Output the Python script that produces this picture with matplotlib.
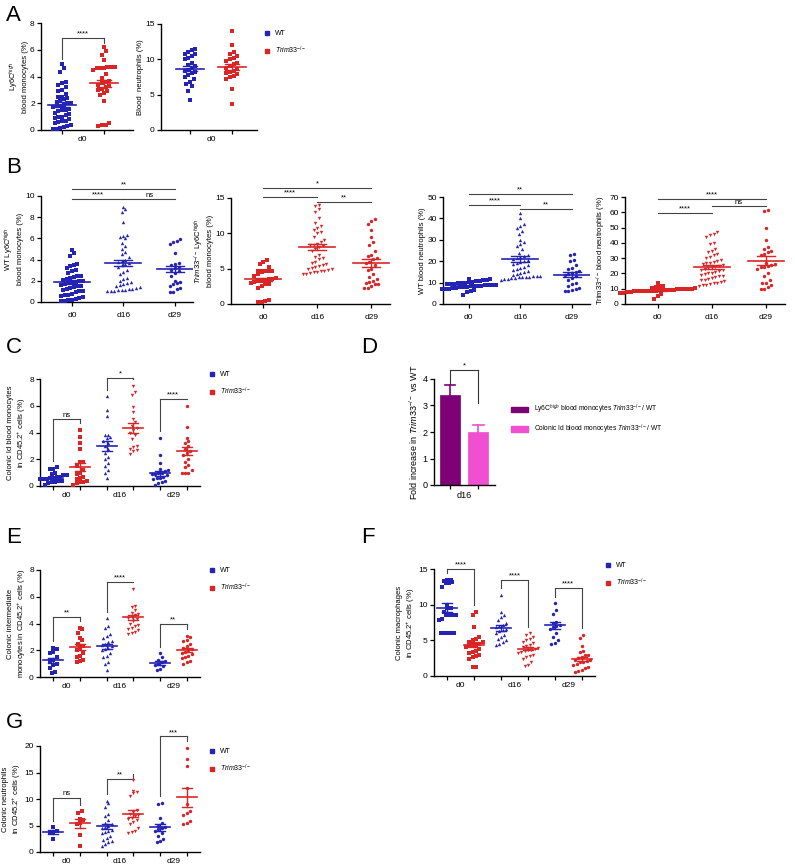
import matplotlib
matplotlib.use("Agg")
import matplotlib.pyplot as plt
import numpy as np
from matplotlib.lines import Line2D
from matplotlib.patches import Patch

plt.rcParams['font.family'] = ['Liberation Sans', 'DejaVu Sans']
plt.rcParams['mathtext.fontset'] = 'custom'
plt.rcParams['mathtext.rm'] = 'Liberation Sans'
plt.rcParams['mathtext.it'] = 'Liberation Sans:italic'

BLUE = '#2323b4'
RED = '#d92525'
W, H = 795, 864
KO = r'$\mathit{Trim33}^{-/-}$'

# ---- A : d0 blood ----
a_mono_wt = [4.9, 4.6, 4.3, 3.6, 3.5, 3.4, 3.2, 3.0, 2.9, 2.7, 2.5, 2.5, 2.4, 2.3, 2.2, 2.1, 2.0, 2.0,
             1.9, 1.8, 1.8, 1.7, 1.6, 1.5, 1.5, 1.4, 1.3, 1.2, 1.1, 1.0, 1.0, 0.9, 0.8, 0.7, 0.7, 0.6,
             0.5, 0.4, 0.3, 0.2, 0.15, 0.1, 0.05]
a_mono_ko = [6.2, 5.9, 5.6, 5.2, 4.7, 4.7, 4.6, 4.6, 4.6, 4.7, 4.5, 4.2, 3.9, 3.7, 3.6, 3.5, 3.4, 3.3,
             3.2, 3.1, 3.0, 2.9, 2.8, 2.6, 2.2, 0.5, 0.4, 0.35, 0.3]
a_neut_wt = [11.5, 11.3, 11.0, 10.8, 10.7, 10.5, 10.2, 10.0, 9.5, 9.2, 9.0, 8.8, 8.5, 8.3, 8.2, 8.0,
             7.8, 7.5, 7.2, 6.8, 6.5, 6.2, 5.5, 4.3]
a_neut_ko = [14.0, 12.0, 11.0, 10.8, 10.5, 10.2, 10.0, 9.8, 9.5, 9.3, 9.0, 8.8, 8.6, 8.4, 8.2, 8.0,
             7.9, 7.6, 7.5, 7.2, 5.8, 3.7]
a_mean = [1.9, 3.5, 8.7, 8.9]
a_sem = [0.18, 0.25, 0.35, 0.4]

# ---- B : time course ----
b1_d16 = [9.0, 8.8, 8.5, 7.5, 6.3, 6.2, 6.1, 6.0, 5.6, 5.3, 5.0, 4.7, 4.5, 4.2, 4.0, 3.9, 3.8, 3.7,
          3.6, 3.5, 3.3, 3.0, 2.8, 2.6, 2.3, 2.2, 2.0, 1.9, 1.8, 1.7, 1.6, 1.5, 1.4, 1.3, 1.2, 1.15,
          1.1, 1.05, 1.0, 1.0, 1.1, 1.2]
b1_d29 = [5.9, 5.8, 5.7, 5.5, 4.6, 3.7, 3.6, 3.5, 3.3, 3.2, 3.0, 2.9, 2.7, 2.5, 2.0, 1.9, 1.8, 1.7,
          1.5, 1.3, 1.2, 0.9, 0.9]
b1_mean = [1.9, 3.65, 3.1]
b1_sem = [0.18, 0.3, 0.3]

b2_d16 = [14.0, 13.8, 13.5, 13.0, 12.2, 11.5, 11.0, 10.8, 10.5, 10.2, 10.0, 9.5, 9.0, 8.8, 8.5, 8.4,
          8.3, 8.2, 8.0, 7.8, 7.5, 7.0, 6.7, 6.5, 6.3, 6.0, 5.8, 5.6, 5.4, 5.2, 5.0, 4.9, 4.8, 4.7,
          4.6, 4.5, 4.4, 4.3, 4.2, 4.5, 5.1, 5.5]
b2_d29 = [12.0, 11.8, 11.3, 10.5, 9.5, 8.8, 8.3, 7.5, 7.0, 6.8, 6.5, 6.3, 6.0, 5.8, 5.5, 5.0, 4.8,
          4.2, 3.8, 3.5, 3.3, 3.1, 3.0, 2.9, 2.8, 2.6, 2.3, 2.2]
b2_mean = [3.5, 8.1, 5.85]
b2_sem = [0.25, 0.45, 0.55]

b3_d0 = [11.8, 11.5, 11.3, 11.0, 10.8, 10.5, 10.3, 10.0, 9.8, 9.6, 9.4, 9.2, 9.0, 8.8, 8.7, 8.6,
         8.5, 8.4, 8.2, 8.0, 7.8, 7.6, 7.4, 7.2, 7.0, 6.8, 6.5, 6.0, 5.5, 4.2, 9.5, 8.9, 7.9, 10.9]
b3_d16 = [42.5, 40.0, 37.5, 36.5, 35.5, 34.0, 32.5, 30.0, 29.0, 28.0, 27.0, 25.5, 24.0, 23.0, 22.5,
          22.0, 21.5, 21.0, 20.5, 20.0, 19.5, 19.0, 18.5, 18.0, 17.5, 17.0, 16.5, 16.0, 15.5, 15.0,
          14.5, 14.0, 13.5, 13.0, 12.8, 12.6, 12.5, 12.3, 12.0, 11.8, 11.5, 11.0, 12.7, 13.2, 12.9]
b3_d29 = [23.5, 23.0, 20.5, 20.0, 18.0, 17.0, 16.5, 15.5, 15.0, 14.5, 14.0, 13.5, 13.0, 12.0, 11.0,
          10.0, 9.5, 8.5, 7.5, 7.0, 6.5, 6.3, 6.0]
b3_mean = [8.5, 21.0, 13.7]
b3_sem = [0.3, 1.3, 1.1]

b4_d0 = [14.0, 12.0, 11.5, 11.0, 10.5, 10.2, 10.0, 9.8, 9.6, 9.5, 9.4, 9.2, 9.0, 8.9, 8.8, 8.7, 8.6,
         8.5, 8.4, 8.2, 8.0, 7.8, 7.5, 7.0, 6.5, 5.0, 3.5, 9.1, 8.3, 9.7]
b4_d16 = [47, 46, 45, 44, 40, 39, 36, 35, 34, 33, 32, 31, 30, 29, 28, 27.5, 27, 26.5, 26, 25.5, 25,
          24.5, 24, 23.5, 23, 22.5, 22, 21.5, 21, 20.5, 20, 19.5, 19, 18.5, 18, 17.5, 17, 16.5, 16,
          15.5, 15, 14.5, 14, 13.5, 13, 12.5, 12, 12.2]
b4_d29 = [61.5, 61, 50, 42, 37, 36, 35, 34, 33, 32, 27, 26, 25.5, 25, 24.5, 24, 23, 20, 18, 15.5, 14,
          13.5, 12.5, 11, 10, 9.5]
b4_mean = [9.0, 24.5, 28.3]
b4_sem = [0.35, 1.3, 2.8]

# ---- C : colonic Id monocytes (WT d0, KO d0, WT d16, KO d16, WT d29, KO d29) ----
c_groups = [
    [1.4, 1.3, 1.3, 1.0, 0.9, 0.8, 0.8, 0.7, 0.7, 0.6, 0.6, 0.5, 0.5, 0.5, 0.4, 0.4, 0.3, 0.3, 0.2, 0.1],
    [4.2, 3.7, 3.2, 2.8, 1.8, 1.8, 1.5, 1.2, 1.0, 0.9, 0.7, 0.6, 0.5, 0.4, 0.3, 0.3, 0.2, 0.1],
    [6.7, 5.7, 5.2, 3.8, 3.8, 3.7, 3.6, 3.4, 3.2, 3.0, 2.8, 2.5, 2.2, 2.0, 1.7, 1.5, 1.2, 1.0, 0.6],
    [7.5, 7.0, 6.8, 5.9, 5.5, 5.0, 4.8, 4.5, 4.3, 4.2, 4.0, 3.8, 3.5, 3.0, 2.9, 2.8, 2.7, 2.6, 2.4],
    [3.6, 2.3, 1.7, 1.3, 1.2, 1.1, 1.0, 0.9, 0.8, 0.7, 0.6, 0.5, 0.4, 0.3, 0.2, 0.1, 0.6, 0.9, 1.0],
    [6.0, 4.4, 3.6, 3.4, 3.2, 3.0, 2.8, 2.6, 2.5, 2.3, 2.0, 1.8, 1.6, 1.4, 1.2, 1.0, 1.0, 1.0],
]
c_mean = [0.6, 1.4, 3.0, 4.35, 0.95, 2.6]
c_sem = [0.08, 0.3, 0.35, 0.35, 0.2, 0.3]
c_sig = [('ns', 5.0), ('*', 8.05), ('****', 6.5)]

# ---- D : fold increase ----
d_labels = [r'Ly6C$^{high}$ blood monocytes ' + KO + '/ WT',
            r'Colonic Id blood monocytes ' + KO + '/ WT']
d_values = [3.4, 2.0]
d_sem = [0.38, 0.28]
d_colors = ['#7d0077', '#f04fd2']

# ---- E : colonic intermediate monocytes ----
e_groups = [
    [2.2, 2.1, 1.9, 1.8, 1.5, 1.3, 1.2, 1.0, 0.9, 0.7, 0.4, 0.3],
    [3.7, 3.6, 3.3, 2.9, 2.8, 2.5, 2.3, 2.2, 2.0, 1.8, 1.6, 1.5, 1.3, 1.2, 1.1],
    [4.4, 3.8, 3.7, 3.2, 3.1, 2.9, 2.7, 2.6, 2.5, 2.4, 2.3, 2.2, 2.1, 2.0, 1.8, 1.6, 1.5, 1.1, 1.0, 0.5],
    [6.6, 5.3, 5.2, 5.0, 4.8, 4.7, 4.6, 4.5, 4.4, 4.3, 4.2, 4.0, 3.9, 3.8, 3.7, 3.6, 3.5, 3.4, 3.3, 3.2],
    [1.8, 1.5, 1.3, 1.2, 1.1, 1.0, 0.9, 0.8, 0.6, 0.5],
    [3.1, 3.0, 2.8, 2.7, 2.5, 2.3, 2.2, 2.1, 2.0, 1.9, 1.8, 1.7, 1.6, 1.5, 1.4, 1.2, 1.1, 1.0],
]
e_mean = [1.25, 2.25, 2.3, 4.45, 1.05, 2.0]
e_sem = [0.18, 0.22, 0.2, 0.18, 0.15, 0.15]
e_sig = [('**', 4.5), ('****', 7.1), ('**', 4.0)]

# ---- F : colonic macrophages ----
f_groups = [
    [13.5, 13.4, 13.3, 13.2, 13.1, 13.0, 12.5, 10.0, 9.6, 9.5, 9.0, 8.6, 8.5, 8.5, 8.5, 8.0, 7.9,
     6.0, 6.0, 6.0, 6.0, 6.0],
    [9.0, 8.5, 6.9, 5.5, 5.2, 5.0, 4.8, 4.7, 4.5, 4.4, 4.3, 4.2, 4.0, 3.8, 3.5, 3.4, 3.2, 3.0, 2.8,
     2.6, 2.4, 1.3, 1.2],
    [11.4, 9.0, 8.5, 8.3, 7.8, 7.5, 7.2, 7.0, 6.8, 6.6, 6.5, 6.3, 6.0, 5.8, 5.5, 5.2, 5.0, 4.7, 4.5, 4.3],
    [6.0, 5.8, 5.5, 5.2, 5.0, 4.8, 4.6, 4.4, 4.2, 4.0, 3.9, 3.8, 3.7, 3.6, 3.5, 3.3, 3.2, 3.0, 2.8,
     2.6, 2.4, 2.0, 1.6, 1.4],
    [10.2, 9.3, 8.7, 7.6, 7.5, 7.2, 7.0, 6.8, 6.6, 6.0, 5.5, 5.0, 4.6, 4.5],
    [5.8, 5.3, 4.2, 3.5, 3.3, 3.0, 2.9, 2.7, 2.5, 2.3, 2.2, 2.1, 2.0, 1.9, 1.7, 1.5, 1.3, 1.1, 0.9,
     0.7, 0.6],
]
f_mean = [9.6, 4.35, 6.7, 3.85, 7.1, 2.4]
f_sem = [0.6, 0.35, 0.4, 0.25, 0.5, 0.3]
f_sig = [('****', 15.0), ('****', 13.5), ('****', 12.4)]

# ---- G : colonic neutrophils ----
g_groups = [
    [4.7, 4.0, 3.8, 3.6, 2.5],
    [7.7, 7.3, 6.3, 6.0, 5.5, 5.2, 3.2, 1.1],
    [9.7, 9.2, 8.5, 7.2, 6.8, 6.0, 5.5, 5.2, 5.0, 4.8, 4.5, 4.2, 4.0, 3.8, 3.5, 3.0, 2.6, 2.3, 2.0,
     1.8, 1.5, 1.1],
    [13.6, 11.5, 11.3, 11.1, 10.5, 8.0, 7.5, 7.2, 7.0, 6.8, 6.5, 6.2, 6.0, 5.7, 5.2, 4.5, 3.9, 3.7, 3.6],
    [9.3, 9.1, 6.5, 5.5, 5.0, 4.8, 4.5, 4.3, 4.0, 3.5, 3.0, 2.5, 2.1, 1.9],
    [19.7, 17.6, 16.3, 12.0, 9.0, 7.8, 7.3, 7.0, 5.8, 5.5, 5.2],
]
g_mean = [3.8, 5.4, 4.85, 7.2, 4.65, 10.3]
g_sem = [0.35, 0.8, 0.45, 0.65, 0.65, 1.8]
g_sig = [('ns', 10.2), ('**', 13.8), ('***', 21.8)]

days = ['d0', 'd16', 'd29']


def make_ax(fig, x0, x1, y0, y1, ylim, ystep, xlim):
    ax = fig.add_axes([x0 / W, 1 - y1 / H, (x1 - x0) / W, (y1 - y0) / H])
    ax.set_ylim(0, ylim)
    ax.set_xlim(*xlim)
    ax.set_yticks(np.arange(0, ylim + 0.01, ystep))
    for s in ['top', 'right']:
        ax.spines[s].set_visible(False)
    for s in ['left', 'bottom']:
        ax.spines[s].set_linewidth(1.0)
    ax.tick_params(axis='both', length=3, width=0.9, labelsize=6, pad=1.5)
    ax.tick_params(axis='x', which='minor', length=0, pad=4)
    ax._px = (x1 - x0, y1 - y0)
    return ax


def swarm(ax, pos, vals, color, marker, mean, sem, hw_px=18, row_px=5.0, col_px=3.6):
    # beeswarm: values within one row height share a row and are spread sideways
    wpx, hpx = ax._px
    x0, x1 = ax.get_xlim()
    ytop = ax.get_ylim()[1]
    h = row_px * ytop / hpx
    dx = col_px * (x1 - x0) / wpx
    v = np.sort(np.asarray(vals, float))
    xs = np.zeros(len(v))
    i = 0
    while i < len(v):
        j = i
        while j + 1 < len(v) and v[j + 1] - v[i] < h:
            j += 1
        n = j - i + 1
        xs[i:j + 1] = pos + (np.arange(n) - (n - 1) / 2) * dx
        i = j + 1
    ax.scatter(xs, v, s=6, c=color, marker=marker, linewidths=0, zorder=3, clip_on=False)
    hw = hw_px * (x1 - x0) / wpx
    ax.plot([pos - hw, pos + hw], [mean, mean], color=color, lw=1.2, zorder=4)
    ax.plot([pos - hw * 0.5, pos + hw * 0.5], [mean + sem] * 2, color=color, lw=1.0, zorder=4)
    ax.plot([pos - hw * 0.5, pos + hw * 0.5], [mean - sem] * 2, color=color, lw=1.0, zorder=4)
    ax.plot([pos, pos], [mean - sem, mean + sem], color=color, lw=1.0, zorder=4)


def bracket(ax, x1, x2, y, text, yl=None, yr=None, color='#444444'):
    ax.plot([x1, x2], [y, y], color=color, lw=0.8, clip_on=False)
    if yl is not None:
        ax.plot([x1, x1], [yl, y], color=color, lw=0.8, clip_on=False)
        ax.plot([x2, x2], [yr, y], color=color, lw=0.8, clip_on=False)
    ytop = ax.get_ylim()[1]
    ax.text((x1 + x2) / 2, y + ytop * 0.005, text, ha='center', va='bottom', fontsize=5.5,
            clip_on=False)


def legend(fig, x, y, labels=('WT', KO)):
    handles = [Line2D([], [], ls='', marker='s', ms=2.5, color=BLUE),
               Line2D([], [], ls='', marker='s', ms=2.5, color=RED)]
    fig.legend(handles, labels, loc='upper left', bbox_to_anchor=(x / W, 1 - y / H),
               frameon=False, fontsize=5, handlelength=0.8, handletextpad=0.8,
               labelspacing=1.1, borderpad=0, borderaxespad=0)


def day_labels(ax, centers, labels):
    ax.set_xticks(centers, minor=True)
    ax.set_xticklabels(labels, minor=True, fontsize=6)


def paired_panel(ax, groups, means, sems, sig):
    markers = ['s', 's', '^', 'v', 'o', 'o']
    for k, g in enumerate(groups):
        col = BLUE if k % 2 == 0 else RED
        swarm(ax, k, g, col, markers[k], means[k], sems[k], hw_px=10, col_px=3.3)
    ax.set_xticks(range(6))
    ax.set_xticklabels([])
    day_labels(ax, [0.5, 2.5, 4.5], days)
    ytop = ax.get_ylim()[1]
    for k, (txt, y) in enumerate(sig):
        bracket(ax, 2 * k, 2 * k + 1, y, txt,
                max(groups[2 * k]) + 0.06 * ytop, max(groups[2 * k + 1]) + 0.06 * ytop)


fig = plt.figure(figsize=(W / 100, H / 100), dpi=100)

# panel letters
for lab, x, y in [('A', 6, 5), ('B', 6, 157), ('C', 6, 337), ('D', 361, 337),
                  ('E', 6, 527), ('F', 361, 527), ('G', 6, 712)]:
    fig.text(x / W, 1 - y / H, lab, fontsize=16, va='top', ha='left')

# A
ax = make_ax(fig, 41, 133, 23, 130, 8, 2, (-0.5, 1.7))
swarm(ax, 0, a_mono_wt, BLUE, 's', a_mean[0], a_sem[0], hw_px=14)
swarm(ax, 1, a_mono_ko, RED, 's', a_mean[1], a_sem[1], hw_px=14)
ax.set_xticks([0, 1]); ax.set_xticklabels([])
day_labels(ax, [0.5], ['d0'])
bracket(ax, 0, 1, 6.9, '****', 5.3, 6.5)
ax.set_ylabel('Ly6C$^{high}$\nblood monocytes (%)', fontsize=5.5, labelpad=1)

ax = make_ax(fig, 161, 257, 24, 130, 15, 5, (-0.69, 1.6))
swarm(ax, 0, a_neut_wt, BLUE, 's', a_mean[2], a_sem[2], hw_px=14)
swarm(ax, 1, a_neut_ko, RED, 's', a_mean[3], a_sem[3], hw_px=14)
ax.set_xticks([0, 1]); ax.set_xticklabels([])
day_labels(ax, [0.5], ['d0'])
ax.set_ylabel('Blood  neutrophils (%)', fontsize=5.5, labelpad=1)
legend(fig, 264, 30)

# B
b_specs = [
    (41, 193, 196, 302, 10, 2, (-0.6, 2.35), [a_mono_wt, b1_d16, b1_d29], b1_mean, b1_sem, BLUE,
     [('**', 0, 2, 10.7), ('****', 0, 1, 9.7), ('ns', 1, 2, 9.7)],
     'WT Ly6C$^{high}$\nblood monocytes (%)'),
    (231, 390, 198, 304, 15, 5, (-0.6, 2.35), [a_mono_ko, b2_d16, b2_d29], b2_mean, b2_sem, RED,
     [('*', 0, 2, 16.4), ('****', 0, 1, 15.1), ('**', 1, 2, 14.4)],
     KO + ' Ly6C$^{high}$\nblood monocytes (%)'),
    (443, 590, 197, 304, 50, 10, (-0.5, 2.35), [b3_d0, b3_d16, b3_d29], b3_mean, b3_sem, BLUE,
     [('**', 0, 2, 51.4), ('****', 0, 1, 46.3), ('**', 1, 2, 44.4)],
     'WT blood neutrophils (%)'),
    (625, 785, 197, 304, 70, 10, (-0.6, 2.35), [b4_d0, b4_d16, b4_d29], b4_mean, b4_sem, RED,
     [('****', 0, 2, 68.7), ('ns', 1, 2, 64.0), ('****', 0, 1, 59.5)],
     'Trim33$^{-/-}$ blood neutrophils (%)'),
]
for (x0, x1, y0, y1, ylim, ystep, xlim, groups, means, sems, col, sigs, ylab) in b_specs:
    ax = make_ax(fig, x0, x1, y0, y1, ylim, ystep, xlim)
    mk = ['s', '^' if col == BLUE else 'v', 'o']
    for k in range(3):
        swarm(ax, k, groups[k], col, mk[k], means[k], sems[k])
    ax.set_xticks(range(3))
    ax.set_xticklabels(days, fontsize=6)
    ax.tick_params(axis='x', pad=4)
    for txt, i1, i2, y in sigs:
        bracket(ax, i1, i2, y, txt)
    ax.set_ylabel(ylab, fontsize=5.5, labelpad=1)

# C
ax = make_ax(fig, 40, 200, 379, 486, 8, 2, (-0.5, 5.5))
paired_panel(ax, c_groups, c_mean, c_sem, c_sig)
ax.set_ylabel('Colonic Id blood monocytes\nin CD45.2$^{+}$ cells (%)', fontsize=5.5, labelpad=1)
legend(fig, 209, 371)

# D
ax = make_ax(fig, 434, 495, 379, 485, 4, 1, (-0.56, 1.58))
for k in range(2):
    ax.bar(k, d_values[k], width=0.7, color=d_colors[k], edgecolor=d_colors[k], lw=0.5, zorder=2)
    ax.plot([k, k], [d_values[k], d_values[k] + d_sem[k]], color=d_colors[k], lw=1.2)
    ax.plot([k - 0.18, k + 0.18], [d_values[k] + d_sem[k]] * 2, color=d_colors[k], lw=1.2)
ax.set_xticks([0, 1]); ax.set_xticklabels([])
day_labels(ax, [0.5], ['d16'])
ax.tick_params(axis='both', labelsize=6.5)
ax.tick_params(axis='x', which='minor', labelsize=6.5)
bracket(ax, 0, 1, 4.34, '*', 3.85, 3.1, color='#333333')
ax.set_ylabel('Fold increase in ' + KO + ' vs WT', fontsize=6.5, labelpad=2)
fig.legend([Patch(color=c) for c in d_colors], d_labels, loc='upper left',
           bbox_to_anchor=(511 / W, 1 - 403 / H), frameon=False, fontsize=4.8,
           handlelength=2.6, handleheight=0.9, handletextpad=0.9, labelspacing=0.9,
           borderpad=0, borderaxespad=0)

# E
ax = make_ax(fig, 40, 200, 570, 677, 8, 2, (-0.5, 5.5))
paired_panel(ax, e_groups, e_mean, e_sem, e_sig)
ax.set_ylabel('Colonic intermediate\nmonocytes in CD45.2$^{+}$ cells (%)', fontsize=5.5, labelpad=1)
legend(fig, 209, 567)

# F
ax = make_ax(fig, 434, 595, 569, 676, 15, 5, (-0.5, 5.5))
paired_panel(ax, f_groups, f_mean, f_sem, f_sig)
ax.set_ylabel('Colonic macrophages\nin CD45.2$^{+}$ cells (%)', fontsize=5.5, labelpad=1)
legend(fig, 605, 562)

# G
ax = make_ax(fig, 40, 200, 746, 852, 20, 5, (-0.5, 5.5))
paired_panel(ax, g_groups, g_mean, g_sem, g_sig)
ax.set_ylabel('Colonic neutrophils\nin CD45.2$^{+}$ cells (%)', fontsize=5.5, labelpad=1)
legend(fig, 209, 748)

fig.savefig('out.png', dpi=100)
